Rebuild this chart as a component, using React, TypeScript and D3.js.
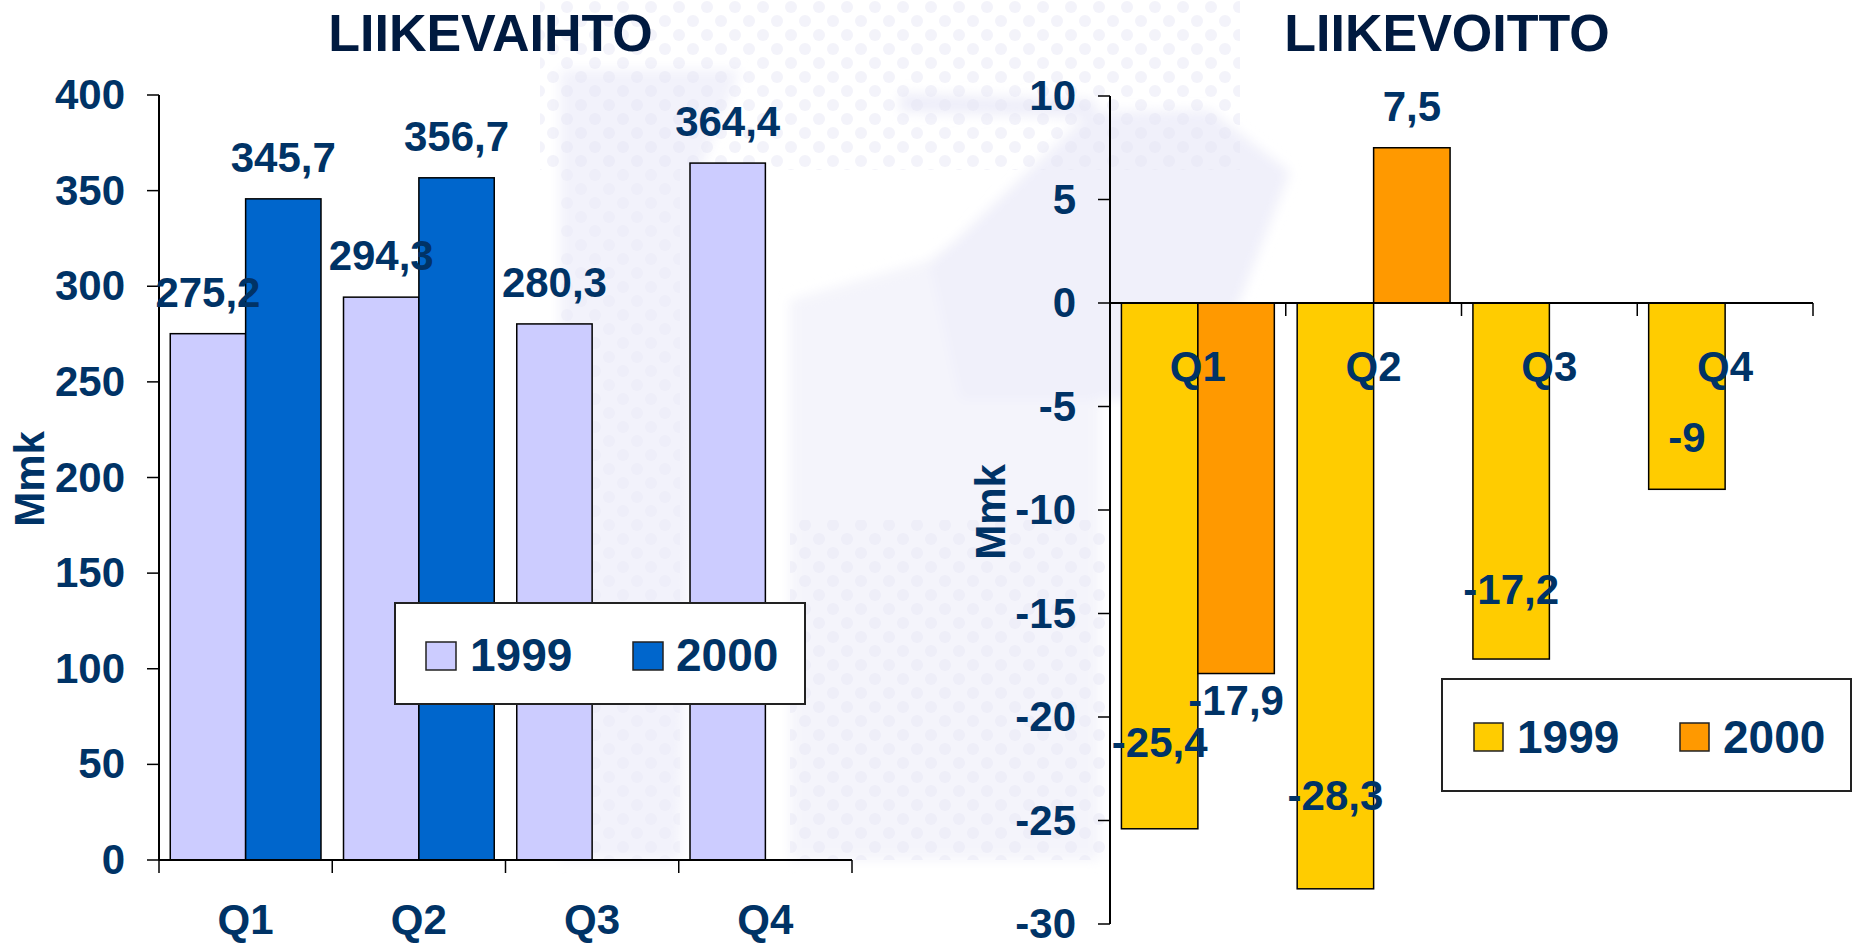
import React from "react";
import * as d3 from "d3";

const quarters = ["Q1", "Q2", "Q3", "Q4"];
const seriesNames = ["1999", "2000"];

const salesTitle = "LIIKEVAIHTO";
const sales1999 = [275.2, 294.3, 280.3, 364.4];
const sales2000: (number | null)[] = [345.7, 356.7, null, null];
const salesTicks = [0, 50, 100, 150, 200, 250, 300, 350, 400];

const profitTitle = "LIIKEVOITTO";
const profit1999 = [-25.4, -28.3, -17.2, -9];
const profit2000: (number | null)[] = [-17.9, 7.5, null, null];
const profitTicks = [-30, -25, -20, -15, -10, -5, 0, 5, 10];

const axisTitle = "Mmk";

const TEXT = "#003366";
const TITLE = "#001A40";
const FONT = "'Liberation Sans', Arial, sans-serif";

const fmt = (v: number) => String(v).replace(".", ",");

type LabelRule = (y0: number, yv: number) => number;

function Chart(props: {
  title: string;
  titleX: number;
  s1: number[];
  s2: (number | null)[];
  colors: [string, string];
  domain: [number, number];
  yRange: [number, number];
  xRange: [number, number];
  ticks: number[];
  catLabelY: number;
  axisTitleX: number;
  axisTitleY: number;
  legend: { x: number; y: number; w: number; h: number; sw: [number, number]; swY: number; swW: number; swH: number; textX: [number, number]; textY: number };
  labelRules: [LabelRule, LabelRule];
}) {
  const p = props;
  const y = d3.scaleLinear().domain(p.domain).range(p.yRange);
  const x = d3.scaleBand<string>().domain(quarters).range(p.xRange).paddingInner(0).paddingOuter(0);
  const bw = x.bandwidth();
  const barW = bw * 0.435;
  const off = bw * 0.065;
  const y0 = y(0);
  const axisX = p.xRange[0];
  const series = [p.s1, p.s2];

  return (
    <g>
      <text x={p.titleX} y={50.5} textAnchor="middle" fontFamily={FONT} fontWeight="bold" fontSize={52} fill={TITLE}>
        {p.title}
      </text>
      {series.map((s, si) =>
        s.map((v, i) => {
          if (v === null || v === undefined) return null;
          const bx = (x(quarters[i]) as number) + off + si * barW;
          const top = Math.min(y(v), y0);
          const h = Math.abs(y(v) - y0);
          return (
            <rect key={`b${si}-${i}`} x={bx} y={top} width={barW} height={h} fill={p.colors[si]} stroke="#000" strokeWidth={1.5} />
          );
        })
      )}
      <line x1={axisX} x2={axisX} y1={y(p.domain[1])} y2={y(p.domain[0])} stroke="#000" strokeWidth={2} />
      {p.ticks.map((t) => (
        <g key={`t${t}`}>
          <line x1={axisX - 12} x2={axisX} y1={y(t)} y2={y(t)} stroke="#000" strokeWidth={1.5} />
          <text x={axisX - 34} y={y(t) + 14} textAnchor="end" fontFamily={FONT} fontWeight="bold" fontSize={42} fill={TEXT}>
            {t}
          </text>
        </g>
      ))}
      <line x1={p.xRange[0]} x2={p.xRange[1]} y1={y0} y2={y0} stroke="#000" strokeWidth={2} />
      {[...quarters.map((q) => x(q) as number), p.xRange[1]].map((tx, i) => (
        <line key={`xt${i}`} x1={tx} x2={tx} y1={y0} y2={y0 + 13} stroke="#000" strokeWidth={1.5} />
      ))}
      {quarters.map((q) => (
        <text key={q} x={(x(q) as number) + bw / 2} y={p.catLabelY} textAnchor="middle" fontFamily={FONT} fontWeight="bold" fontSize={42} fill={TEXT}>
          {q}
        </text>
      ))}
      <text
        transform={`translate(${p.axisTitleX},${p.axisTitleY}) rotate(-90)`}
        textAnchor="middle"
        fontFamily={FONT}
        fontWeight="bold"
        fontSize={42}
        fill={TEXT}
      >
        {axisTitle}
      </text>
      {series.map((s, si) =>
        s.map((v, i) => {
          if (v === null || v === undefined) return null;
          const cx = (x(quarters[i]) as number) + off + si * barW + barW / 2;
          const ly = p.labelRules[si](y0, y(v));
          return (
            <text key={`l${si}-${i}`} x={cx} y={ly} textAnchor="middle" fontFamily={FONT} fontWeight="bold" fontSize={42} fill={TEXT}>
              {fmt(v)}
            </text>
          );
        })
      )}
      <rect x={p.legend.x} y={p.legend.y} width={p.legend.w} height={p.legend.h} fill="#fff" stroke="#222" strokeWidth={2} />
      {seriesNames.map((n, i) => (
        <g key={n}>
          <rect x={p.legend.sw[i]} y={p.legend.swY} width={p.legend.swW} height={p.legend.swH} fill={p.colors[i]} stroke="#222" strokeWidth={1.5} />
          <text x={p.legend.textX[i]} y={p.legend.textY} fontFamily={FONT} fontWeight="bold" fontSize={46} fill={TEXT}>
            {n}
          </text>
        </g>
      ))}
    </g>
  );
}

function Watermark() {
  return (
    <g>
      <defs>
        <pattern id="dots" width="28" height="28" patternUnits="userSpaceOnUse">
          <circle cx="7" cy="7" r="6" fill="#E6E6F4" />
          <circle cx="21" cy="21" r="6" fill="#E6E6F4" />
        </pattern>
        <filter id="soft" x="-10%" y="-10%" width="120%" height="120%">
          <feGaussianBlur stdDeviation="6" />
        </filter>
      </defs>
      <g filter="url(#soft)">
        <path d="M560,70 L740,70 L700,170 L680,860 L560,860 Z" fill="#F2F2FB" />
        <path d="M790,300 L930,260 L1100,130 L1100,860 L790,860 Z" fill="#F4F4FB" />
        <path d="M900,93 L1095,100 L1095,118 L900,112 Z" fill="#EEEEF9" />
        <path d="M1090,112 L1210,110 L1290,172 L1240,300 L1170,400 L960,400 L930,265 Z" fill="#F0F0FA" />
      </g>
      <rect x={540} y={0} width={700} height={170} fill="url(#dots)" opacity={0.5} />
      <rect x={560} y={170} width={120} height={690} fill="url(#dots)" opacity={0.35} />
      <rect x={790} y={520} width={315} height={340} fill="url(#dots)" opacity={0.45} />
    </g>
  );
}

export default function App() {
  const leftRule: LabelRule = (_y0, yv) => yv - 27;
  const right1999: LabelRule = (y0, yv) => y0 + 0.897 * (yv - y0) - 18;
  const right2000: LabelRule = (y0, yv) => y0 + 1.13 * (yv - y0) - 6.7;
  return (
    <svg width={1854} height={943} style={{ position: "absolute", left: 0, top: 0, background: "#fff" }}>
      <rect x={0} y={0} width={1854} height={943} fill="#fff" />
      <Watermark />
      <Chart
        title={salesTitle}
        titleX={490.5}
        s1={sales1999}
        s2={sales2000}
        colors={["#CCCCFF", "#0066CC"]}
        domain={[0, 400]}
        yRange={[860, 95]}
        xRange={[159, 852]}
        ticks={salesTicks}
        catLabelY={934}
        axisTitleX={44}
        axisTitleY={479}
        legend={{ x: 395, y: 603, w: 410, h: 101, sw: [426, 633], swY: 642, swW: 30, swH: 28, textX: [470, 676], textY: 671 }}
        labelRules={[leftRule, leftRule]}
      />
      <Chart
        title={profitTitle}
        titleX={1447}
        s1={profit1999}
        s2={profit2000}
        colors={["#FFCC00", "#FF9900"]}
        domain={[-30, 10]}
        yRange={[924, 96]}
        xRange={[1110, 1813]}
        ticks={profitTicks}
        catLabelY={381}
        axisTitleX={1005}
        axisTitleY={512}
        legend={{ x: 1442, y: 679, w: 409, h: 112, sw: [1474, 1680], swY: 723, swW: 29, swH: 28, textX: [1517, 1723], textY: 753 }}
        labelRules={[right1999, right2000]}
      />
    </svg>
  );
}
